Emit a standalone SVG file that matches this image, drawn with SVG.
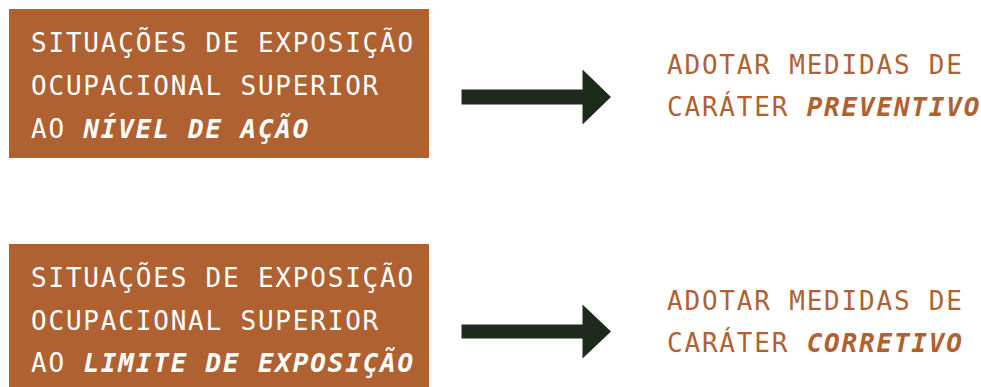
<svg xmlns="http://www.w3.org/2000/svg" width="981" height="387" viewBox="0 0 981 387">
<style>
.box{fill:#AF6132}
.t{font-family:"DejaVu Sans Mono","Liberation Mono",monospace;font-size:26px;letter-spacing:1.8px}
.w{fill:#FFFFFF}
.o{fill:#AF6132}
.b{font-weight:bold;font-style:italic}
.arrow{fill:#1D2A1C}
</style>
<rect width="981" height="387" fill="#FFFFFF"/>
<g id="node-nivel-acao">
<rect class="box" x="9" y="9" width="420" height="149"/>
<text class="t w" x="31" y="52">SITUAÇÕES DE EXPOSIÇÃO</text>
<text class="t w" x="31" y="94.5">OCUPACIONAL SUPERIOR</text>
<text class="t w" x="31" y="137.5">AO <tspan class="b">NÍVEL DE AÇÃO</tspan></text>
</g>
<g id="node-preventivo">
<text class="t o" x="667" y="74">ADOTAR MEDIDAS DE</text>
<text class="t o" x="667" y="116">CARÁTER <tspan class="b">PREVENTIVO</tspan></text>
</g>
<g id="node-limite">
<rect class="box" x="9" y="244" width="420" height="143"/>
<text class="t w" x="31" y="287">SITUAÇÕES DE EXPOSIÇÃO</text>
<text class="t w" x="31" y="329.5">OCUPACIONAL SUPERIOR</text>
<text class="t w" x="31" y="372">AO <tspan class="b">LIMITE DE EXPOSIÇÃO</tspan></text>
</g>
<g id="node-corretivo">
<text class="t o" x="667" y="310">ADOTAR MEDIDAS DE</text>
<text class="t o" x="667" y="352">CARÁTER <tspan class="b">CORRETIVO</tspan></text>
</g>
<g id="connectors">
<polygon class="arrow" points="461.5,89.5 582.5,89.5 582.5,69.5 611,97 582.5,124.5 582.5,104.5 461.5,104.5"/>
<polygon class="arrow" points="461.5,324.5 582.5,324.5 582.5,304.5 611,331.5 582.5,358.5 582.5,338.5 461.5,338.5"/>
</g>
</svg>
